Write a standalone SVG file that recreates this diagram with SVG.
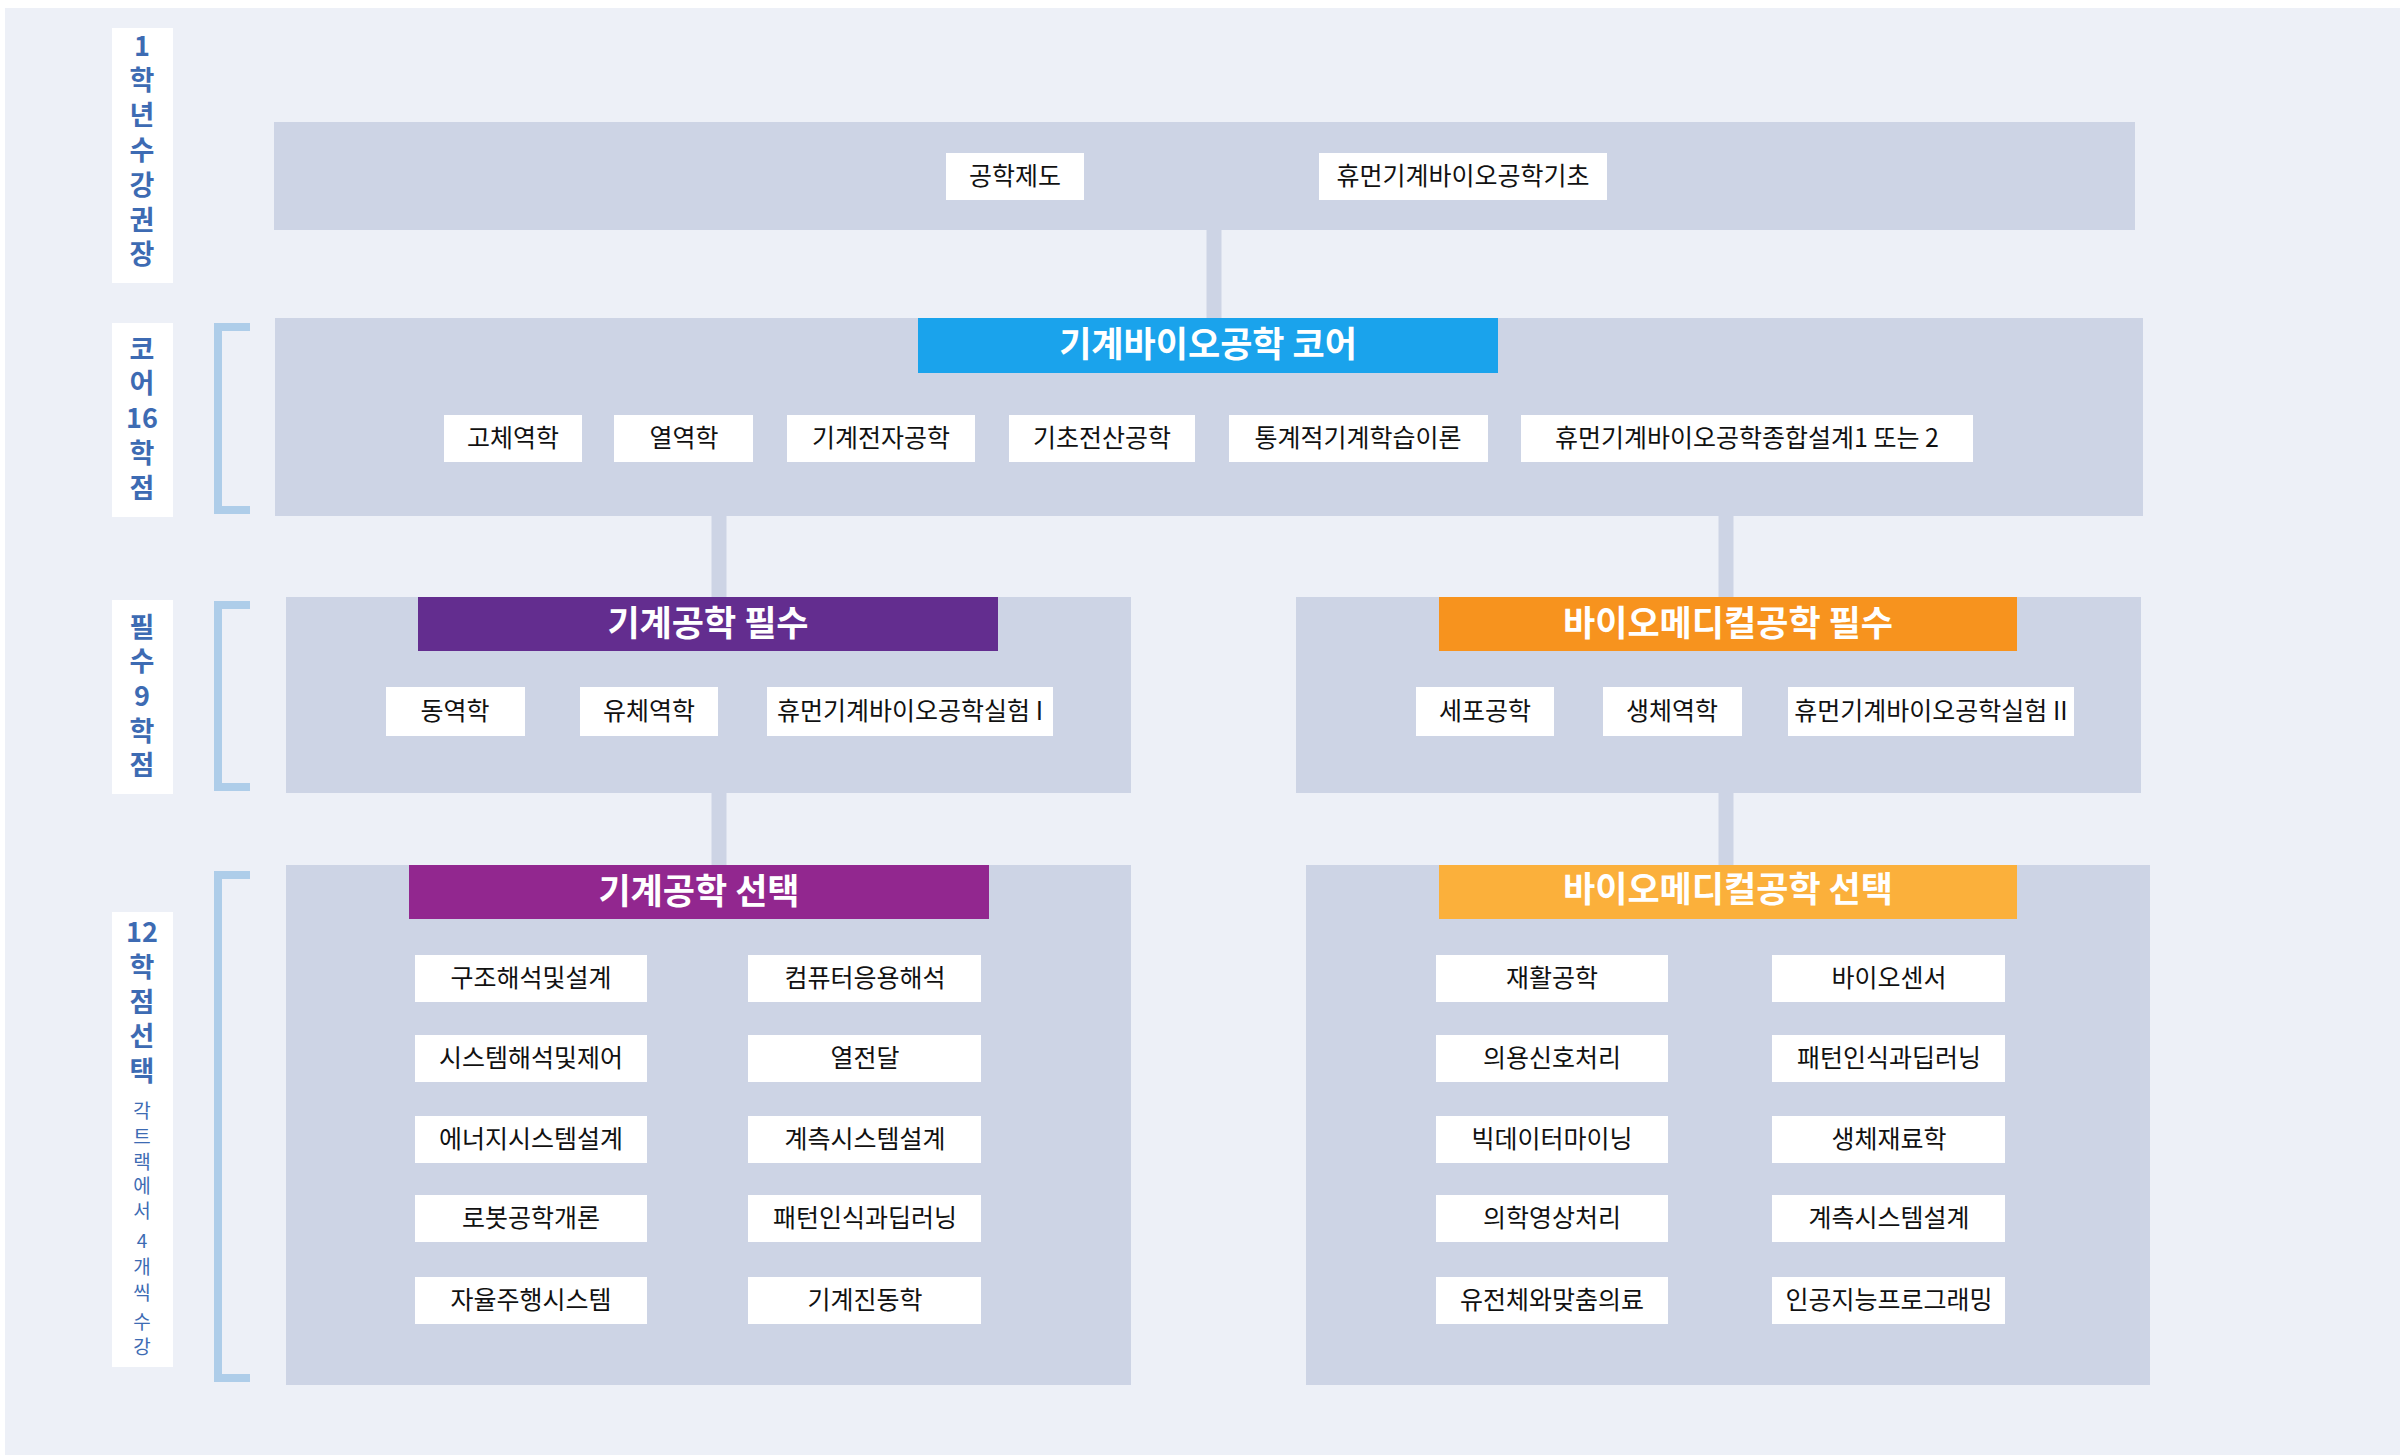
<svg xmlns="http://www.w3.org/2000/svg" width="2400" height="1455" viewBox="0 0 2400 1455">
<style>
.pan{fill:#CDD4E5}
.it rect{fill:#FFFFFF}
.it text{font-family:"Noto Sans CJK KR","Noto Sans",sans-serif;font-size:25px;fill:#111;text-anchor:middle}
.hd text{font-family:"Noto Sans CJK KR","Noto Sans",sans-serif;font-size:35px;font-weight:bold;fill:#fff;text-anchor:middle}
.lb rect{fill:#fff}
.lb text{font-family:"Noto Sans CJK KR","Noto Sans",sans-serif;font-size:27px;font-weight:bold;fill:#3D6BB3;text-anchor:middle}
.lb text.s{font-size:19px;font-weight:normal}
.br{fill:none;stroke:#AECDE9;stroke-width:8}
.cn{stroke:#CDD4E5;stroke-width:15}
</style>
<rect x="0" y="0" width="2400" height="1455" fill="#fff"/>
<rect x="5" y="8" width="2395" height="1447" fill="#EDF0F7"/>

<g id="labels" class="lb">
<rect x="112" y="28" width="61" height="255"/>
<text x="142" y="56">1</text><text x="142" y="90">학</text><text x="142" y="125">년</text><text x="142" y="160">수</text><text x="142" y="195">강</text><text x="142" y="230">권</text><text x="142" y="264">장</text>
<rect x="112" y="323" width="61" height="194"/>
<text x="142" y="359">코</text><text x="142" y="393">어</text><text x="142" y="428">16</text><text x="142" y="463">학</text><text x="142" y="498">점</text>
<rect x="112" y="600" width="61" height="194"/>
<text x="142" y="637">필</text><text x="142" y="671">수</text><text x="142" y="706">9</text><text x="142" y="741">학</text><text x="142" y="775">점</text>
<rect x="112" y="912" width="61" height="455"/>
<text x="142" y="942">12</text><text x="142" y="977">학</text><text x="142" y="1012">점</text><text x="142" y="1046">선</text><text x="142" y="1081">택</text>
<text class="s" x="142" y="1118">각</text><text class="s" x="142" y="1144">트</text><text class="s" x="142" y="1169">랙</text><text class="s" x="142" y="1193">에</text><text class="s" x="142" y="1218">서</text><text class="s" x="142" y="1248">4</text><text class="s" x="142" y="1274">개</text><text class="s" x="142" y="1300">씩</text><text class="s" x="142" y="1329">수</text><text class="s" x="142" y="1354">강</text>
</g>
<g id="brackets">
<path class="br" d="M250 327H218V510H250"/>
<path class="br" d="M250 605H218V787H250"/>
<path class="br" d="M250 875H218V1378H250"/>
</g>

<g id="connectors">
<line class="cn" x1="1214" y1="228" x2="1214" y2="320"/>
<line class="cn" x1="719" y1="514" x2="719" y2="599"/>
<line class="cn" x1="1726" y1="514" x2="1726" y2="599"/>
<line class="cn" x1="719" y1="791" x2="719" y2="867"/>
<line class="cn" x1="1726" y1="791" x2="1726" y2="867"/>
</g>

<g id="year1">
<rect class="pan" x="274" y="122" width="1861" height="108"/>
<g class="it"><rect x="946" y="153" width="138" height="47"/><text x="1015" y="185">공학제도</text></g>
<g class="it"><rect x="1319" y="153" width="288" height="47"/><text x="1463" y="185">휴먼기계바이오공학기초</text></g>
</g>

<g id="core">
<rect class="pan" x="275" y="318" width="1868" height="198"/>
<g class="hd"><rect x="918" y="318" width="580" height="55" fill="#1AA3EC"/><text x="1208" y="357">기계바이오공학 코어</text></g>
<g class="it"><rect x="444" y="415" width="138" height="47"/><text x="513" y="447">고체역학</text></g>
<g class="it"><rect x="614" y="415" width="139" height="47"/><text x="684" y="447">열역학</text></g>
<g class="it"><rect x="787" y="415" width="188" height="47"/><text x="881" y="447">기계전자공학</text></g>
<g class="it"><rect x="1009" y="415" width="186" height="47"/><text x="1102" y="447">기초전산공학</text></g>
<g class="it"><rect x="1229" y="415" width="259" height="47"/><text x="1358" y="447">통계적기계학습이론</text></g>
<g class="it"><rect x="1521" y="415" width="452" height="47"/><text x="1747" y="447">휴먼기계바이오공학종합설계1 또는 2</text></g>
</g>

<g id="me-req">
<rect class="pan" x="286" y="597" width="845" height="196"/>
<g class="hd"><rect x="418" y="597" width="580" height="54" fill="#632D8F"/><text x="708" y="636">기계공학 필수</text></g>
<g class="it"><rect x="386" y="687" width="139" height="49"/><text x="455" y="720">동역학</text></g>
<g class="it"><rect x="580" y="687" width="138" height="49"/><text x="649" y="720">유체역학</text></g>
<g class="it"><rect x="767" y="687" width="286" height="49"/><text x="910" y="720">휴먼기계바이오공학실험 I</text></g>
</g>

<g id="bio-req">
<rect class="pan" x="1296" y="597" width="845" height="196"/>
<g class="hd"><rect x="1439" y="597" width="578" height="54" fill="#F7931E"/><text x="1728" y="636">바이오메디컬공학 필수</text></g>
<g class="it"><rect x="1416" y="687" width="138" height="49"/><text x="1485" y="720">세포공학</text></g>
<g class="it"><rect x="1603" y="687" width="139" height="49"/><text x="1672" y="720">생체역학</text></g>
<g class="it"><rect x="1788" y="687" width="286" height="49"/><text x="1931" y="720">휴먼기계바이오공학실험 II</text></g>
</g>

<g id="me-sel">
<rect class="pan" x="286" y="865" width="845" height="520"/>
<g class="hd"><rect x="409" y="865" width="580" height="54" fill="#92278F"/><text x="699" y="904">기계공학 선택</text></g>
<g class="it"><rect x="415" y="955" width="232" height="47"/><text x="531" y="987">구조해석및설계</text></g>
<g class="it"><rect x="415" y="1035" width="232" height="47"/><text x="531" y="1067">시스템해석및제어</text></g>
<g class="it"><rect x="415" y="1116" width="232" height="47"/><text x="531" y="1148">에너지시스템설계</text></g>
<g class="it"><rect x="415" y="1195" width="232" height="47"/><text x="531" y="1227">로봇공학개론</text></g>
<g class="it"><rect x="415" y="1277" width="232" height="47"/><text x="531" y="1309">자율주행시스템</text></g>
<g class="it"><rect x="748" y="955" width="233" height="47"/><text x="865" y="987">컴퓨터응용해석</text></g>
<g class="it"><rect x="748" y="1035" width="233" height="47"/><text x="865" y="1067">열전달</text></g>
<g class="it"><rect x="748" y="1116" width="233" height="47"/><text x="865" y="1148">계측시스템설계</text></g>
<g class="it"><rect x="748" y="1195" width="233" height="47"/><text x="865" y="1227">패턴인식과딥러닝</text></g>
<g class="it"><rect x="748" y="1277" width="233" height="47"/><text x="865" y="1309">기계진동학</text></g>
</g>

<g id="bio-sel">
<rect class="pan" x="1306" y="865" width="844" height="520"/>
<g class="hd"><rect x="1439" y="865" width="578" height="54" fill="#FBB03B"/><text x="1728" y="902">바이오메디컬공학 선택</text></g>
<g class="it"><rect x="1436" y="955" width="232" height="47"/><text x="1552" y="987">재활공학</text></g>
<g class="it"><rect x="1436" y="1035" width="232" height="47"/><text x="1552" y="1067">의용신호처리</text></g>
<g class="it"><rect x="1436" y="1116" width="232" height="47"/><text x="1552" y="1148">빅데이터마이닝</text></g>
<g class="it"><rect x="1436" y="1195" width="232" height="47"/><text x="1552" y="1227">의학영상처리</text></g>
<g class="it"><rect x="1436" y="1277" width="232" height="47"/><text x="1552" y="1309">유전체와맞춤의료</text></g>
<g class="it"><rect x="1772" y="955" width="233" height="47"/><text x="1889" y="987">바이오센서</text></g>
<g class="it"><rect x="1772" y="1035" width="233" height="47"/><text x="1889" y="1067">패턴인식과딥러닝</text></g>
<g class="it"><rect x="1772" y="1116" width="233" height="47"/><text x="1889" y="1148">생체재료학</text></g>
<g class="it"><rect x="1772" y="1195" width="233" height="47"/><text x="1889" y="1227">계측시스템설계</text></g>
<g class="it"><rect x="1772" y="1277" width="233" height="47"/><text x="1889" y="1309">인공지능프로그래밍</text></g>
</g>
</svg>
